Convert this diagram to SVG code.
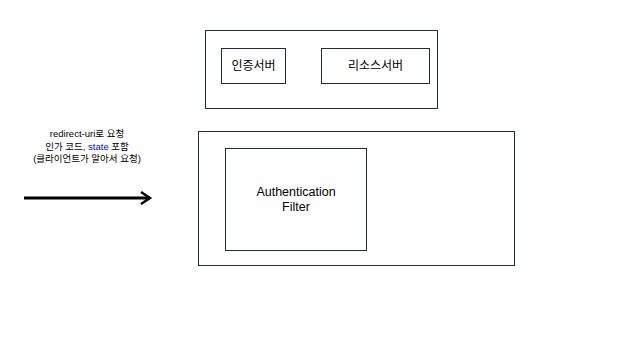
<svg xmlns="http://www.w3.org/2000/svg" width="641" height="361" viewBox="0 0 641 361">
<style>
.box{fill:#fff;stroke:#1f2d3d;stroke-width:1}
.t{font-family:"Liberation Sans","Noto Sans CJK KR",sans-serif;font-size:12px;fill:#000;text-anchor:middle}
.a{font-family:"Liberation Sans","Noto Sans CJK KR",sans-serif;font-size:12.5px;fill:#000;text-anchor:middle}
.s{font-family:"Liberation Sans","Noto Sans CJK KR",sans-serif;font-size:9.5px;fill:#000;text-anchor:middle}
</style>
<rect width="641" height="361" fill="#fff"/>
<g id="servers">
<rect class="box" x="205.5" y="30.5" width="232" height="78"/>
</g>
<g id="auth-server">
<rect class="box" x="221.5" y="48.5" width="64" height="35"/>
<text class="t" x="253.5" y="70">인증서버</text>
</g>
<g id="resource-server">
<rect class="box" x="321.5" y="48.5" width="108" height="35"/>
<text class="t" x="375.5" y="70">리소스서버</text>
</g>
<g id="client">
<rect class="box" x="198.5" y="131.5" width="316" height="134"/>
</g>
<g id="auth-filter">
<rect class="box" x="225.5" y="148.5" width="141" height="102"/>
<text class="a" x="296" y="196">Authentication</text>
<text class="a" x="296" y="211">Filter</text>
</g>
<g id="connectors">
<line x1="24" y1="198" x2="150" y2="198" stroke="#000" stroke-width="3"/>
<polyline points="141,192 150,198 141,204" fill="none" stroke="#000" stroke-width="2.5"/>
<text class="s" x="87" y="137">redirect-uri로 요청</text>
<text class="s" x="87" y="150">인가 코드, <tspan fill="#0000ff">state</tspan> 포함</text>
<text class="s" x="87" y="162">(클라이언트가 알아서 요청)</text>
</g>
</svg>
